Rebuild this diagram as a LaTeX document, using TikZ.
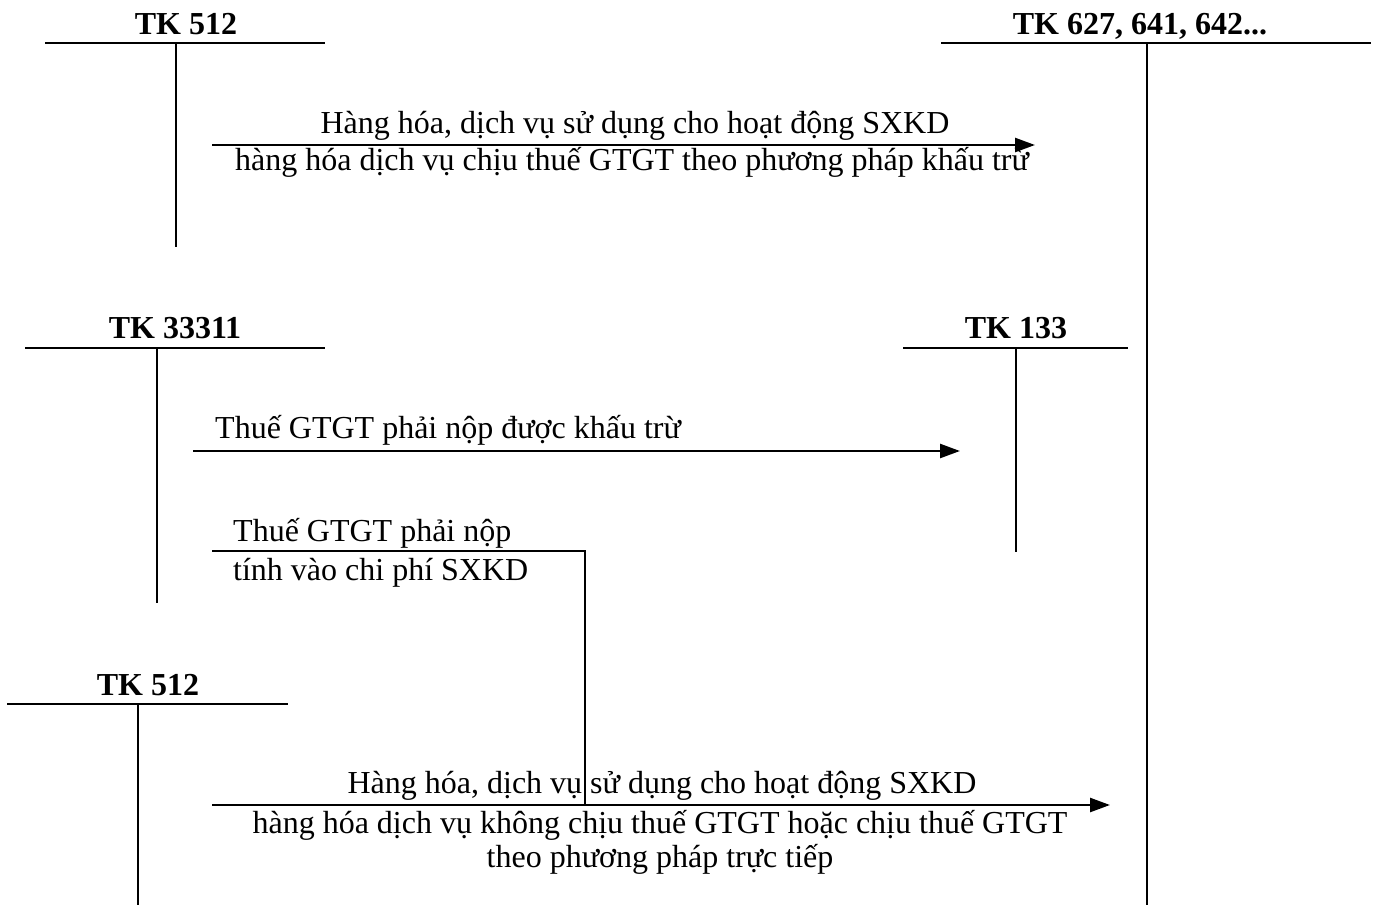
\documentclass[tikz,border=0pt]{standalone}
\usepackage{fontspec}
\setmainfont{Liberation Serif}
\usetikzlibrary{arrows.meta}
\begin{document}
\begin{tikzpicture}[x=1pt,y=-1pt,
  tline/.style={line width=2pt},
  flow/.style={line width=2.5pt,-{Triangle[length=20pt,width=14pt]}},
  plain/.style={line width=1.5pt},
  lbl/.style={font=\fontsize{32}{38}\selectfont\bfseries, inner sep=0pt, anchor=base},
  txt/.style={font=\fontsize{32}{38}\selectfont, inner sep=0pt, anchor=base},
  txtw/.style={txt, anchor=base west},
]
\useasboundingbox (0,0) rectangle (1379,905);

% T-account TK 512 (top)
\node[lbl] (L1) at (186,34) {TK 512};
\coordinate (t1l) at (45,43); \coordinate (t1r) at (325,43);
\coordinate (t1t) at (176,43); \coordinate (t1b) at (176,247);
\draw[tline] (t1l) -- (t1r); \draw[tline] (t1t) -- (t1b);

% T-account TK 627, 641, 642...
\node[lbl] (L2) at (1140,34) {TK 627, 641, 642...};
\coordinate (t2l) at (941,43); \coordinate (t2r) at (1371,43);
\coordinate (t2t) at (1147,43); \coordinate (t2b) at (1147,905);
\draw[tline] (t2l) -- (t2r); \draw[tline] (t2t) -- (t2b);

% T-account TK 33311
\node[lbl] (L3) at (175,338) {TK 33311};
\coordinate (t3l) at (25,348); \coordinate (t3r) at (325,348);
\coordinate (t3t) at (157,348); \coordinate (t3b) at (157,603);
\draw[tline] (t3l) -- (t3r); \draw[tline] (t3t) -- (t3b);

% T-account TK 133
\node[lbl] (L4) at (1016,338) {TK 133};
\coordinate (t4l) at (903,348); \coordinate (t4r) at (1128,348);
\coordinate (t4t) at (1016,348); \coordinate (t4b) at (1016,552);
\draw[tline] (t4l) -- (t4r); \draw[tline] (t4t) -- (t4b);

% T-account TK 512 (bottom)
\node[lbl] (L5) at (148,695) {TK 512};
\coordinate (t5l) at (7,704); \coordinate (t5r) at (288,704);
\coordinate (t5t) at (138,704); \coordinate (t5b) at (138,905);
\draw[tline] (t5l) -- (t5r); \draw[tline] (t5t) -- (t5b);

% Arrow 1
\coordinate (a1s) at (212,145); \coordinate (a1e) at (1035,145);
\draw[flow] (a1s) -- (a1e);
\node[txt] (a1t1) at (635,133) {Hàng hóa, dịch vụ sử dụng cho hoạt động SXKD};
\node[txt] (a1t2) at (632,170) {hàng hóa dịch vụ chịu thuế GTGT theo phương pháp khấu trừ};

% Arrow 2
\coordinate (a2s) at (193,451); \coordinate (a2e) at (960,451);
\draw[flow] (a2s) -- (a2e);
\node[txtw] (a2t) at (215,438) {Thuế GTGT phải nộp được khấu trừ};

% Arrow 3
\coordinate (a3s) at (212,805); \coordinate (a3e) at (1110,805);
\draw[flow] (a3s) -- (a3e);
\node[txt] (a3t1) at (662,793) {Hàng hóa, dịch vụ sử dụng cho hoạt động SXKD};
\node[txt] (a3t2) at (660,833) {hàng hóa dịch vụ không chịu thuế GTGT hoặc chịu thuế GTGT};
\node[txt] (a3t3) at (660,867) {theo phương pháp trực tiếp};

% Tax line into cost
\coordinate (c1) at (212,551); \coordinate (c2) at (585,551); \coordinate (c3) at (585,805);
\draw[plain] (c1) -- (c2) -- (c3);
\node[txtw] (ct1) at (233,541) {Thuế GTGT phải nộp};
\node[txtw] (ct2) at (233,580) {tính vào chi phí SXKD};

\end{tikzpicture}
\end{document}
